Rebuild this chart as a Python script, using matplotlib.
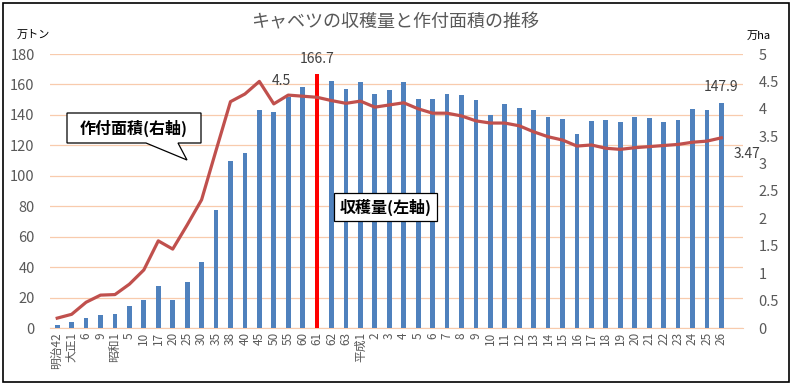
import numpy as np
import matplotlib
matplotlib.use('Agg')
import matplotlib.pyplot as plt
from matplotlib.patches import Polygon, Rectangle

plt.rcParams['font.family'] = ['Noto Sans CJK JP', 'DejaVu Sans']

# categories (era years)
years = ['明治42', '大正1', '6', '9', '昭和1', '5', '10', '17', '20', '25', '30', '35', '38',
         '40', '45', '50', '55', '60', '61', '62', '63', '平成1', '2', '3', '4', '5', '6', '7',
         '8', '9', '10', '11', '12', '13', '14', '15', '16', '17', '18', '19', '20', '21',
         '22', '23', '24', '25', '26']
# harvest (10k t), left axis
harvest = [2, 4, 6.6, 8.5, 9.2, 14.5, 18.4, 27.6, 18.4, 30.2, 43.4, 77.5, 109.7,
           115, 143.2, 141.9, 152, 158.5, 166.7, 162.5, 157.2, 161.8, 153.7, 156.6, 161.3,
           150.4, 150.4, 153.7, 153, 149.8, 140, 147.2, 144.5, 143.2, 138.6, 137.5, 127.5,
           136, 136.7, 135.3, 138.6, 138, 135.3, 136.7, 143.9, 143.2, 147.9]
# planted area (10k ha), right axis
area = [0.18, 0.25, 0.47, 0.60, 0.61, 0.80, 1.06, 1.59, 1.44, 1.88, 2.34, 3.24, 4.13,
        4.27, 4.5, 4.09, 4.25, 4.23, 4.21, 4.15, 4.10, 4.14, 4.03, 4.07, 4.11,
        4.00, 3.92, 3.92, 3.87, 3.78, 3.74, 3.74, 3.69, 3.58, 3.49, 3.43, 3.32,
        3.34, 3.28, 3.26, 3.29, 3.31, 3.33, 3.35, 3.39, 3.41, 3.47]
peak_idx = 18  # 昭和61

W, H = 791, 385
fig = plt.figure(figsize=(W / 100, H / 100), dpi=100)

def fx(px):
    return px / W

def fy(py):
    return 1 - py / H

# chart border
fig.patches.append(Rectangle((fx(3), fy(382)), fx(786), 379 / H, transform=fig.transFigure,
                             fill=False, edgecolor='black', linewidth=1.2))

ax = fig.add_axes([fx(50), fy(328), fx(693), 274 / H])
x = np.arange(len(years))
colors = ['#FF0000' if i == peak_idx else '#4F81BD' for i in range(len(years))]
ax.bar(x, harvest, width=0.33, color=colors, zorder=3)
# one empty slot after the last year, as in the source sheet
ax.set_xlim(-0.5, len(years) + 0.5)
ax.set_ylim(0, 180)
ax.set_yticks(np.arange(0, 181, 20))
ax.tick_params(axis='y', length=0, labelsize=10.5, labelcolor='#595959', pad=11)
ax.set_xticks(x)
ax.set_xticklabels(years, rotation=90, fontsize=8.5, color='#595959')
ax.tick_params(axis='x', length=0, pad=3)
ax.grid(axis='y', color='#F8CBAD', linewidth=0.9, zorder=0)
for s in ['top', 'right', 'left']:
    ax.spines[s].set_visible(False)
ax.spines['bottom'].set_color('#F8CBAD')

ax2 = ax.twinx()
ax2.plot(x, area, color='#C0504D', linewidth=2.3, zorder=4)
ax2.set_ylim(0, 5)
rticks = np.arange(0, 5.01, 0.5)
ax2.set_yticks(rticks)
ax2.set_yticklabels(['{:g}'.format(t) for t in rticks])
ax2.tick_params(axis='y', length=0, labelsize=10.5, labelcolor='#595959', pad=11)
for s in ax2.spines.values():
    s.set_visible(False)

# data labels
ax.annotate('{:.1f}'.format(harvest[peak_idx]), (x[peak_idx], harvest[peak_idx]),
            xytext=(0, 8), textcoords='offset pixels', ha='center', va='bottom',
            fontsize=10, color='#404040')
ax.annotate('{:.1f}'.format(harvest[-1]), (x[-1], harvest[-1]),
            xytext=(0, 9), textcoords='offset pixels', ha='center', va='bottom',
            fontsize=10, color='#404040')
ax2.annotate('{:g}'.format(area[14]), (x[14], area[14]),
             xytext=(22, 0), textcoords='offset pixels', ha='center', va='center',
             fontsize=10, color='#404040')
ax2.annotate('{:.2f}'.format(area[-1]), (x[-1], area[-1]),
             xytext=(26, -16), textcoords='offset pixels', ha='center', va='center',
             fontsize=10, color='#404040')

# titles and units
fig.text(fx(395), fy(22), 'キャベツの収穫量と作付面積の推移', ha='center', va='center',
         fontsize=13, color='#595959')
fig.text(fx(17), fy(35), '万トン', ha='left', va='center', fontsize=8, color='black')
fig.text(fx(747), fy(36), '万ha', ha='left', va='center', fontsize=8, color='black')

# callout for area line
pts = [(67, 113), (201, 113), (201, 143), (178, 143), (187, 160), (146, 143), (67, 143)]
fig.patches.append(Polygon([(fx(a), fy(b)) for a, b in pts], closed=True,
                           transform=fig.transFigure, facecolor='white',
                           edgecolor='black', linewidth=0.9, zorder=5))
fig.text(fx(134), fy(128), '作付面積(右軸)', ha='center', va='center', fontsize=11.5,
         fontweight='bold', color='black', zorder=6)

# label box for harvest bars
fig.text(fx(385.5), fy(207), '収穫量(左軸)', ha='center', va='center', fontsize=11.5,
         fontweight='bold', color='black', zorder=6,
         bbox=dict(boxstyle='square,pad=0.35', facecolor='white', edgecolor='black',
                   linewidth=0.9))

fig.savefig('out.png', dpi=100)
